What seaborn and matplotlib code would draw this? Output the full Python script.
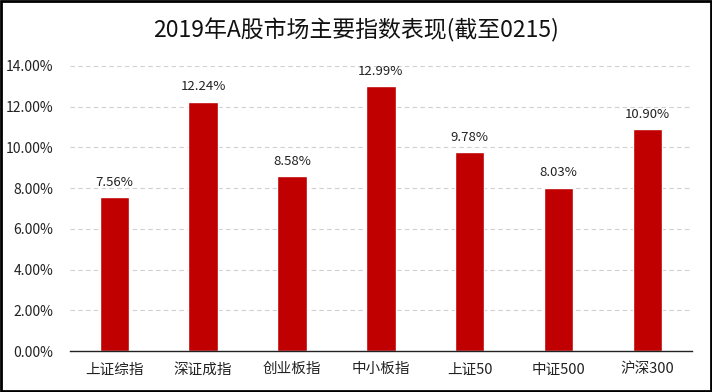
import matplotlib
matplotlib.use("Agg")
import matplotlib.pyplot as plt
import seaborn as sns
import pandas as pd
from matplotlib.ticker import FuncFormatter
from matplotlib.patches import Rectangle

indices = ["上证综指", "深证成指", "创业板指", "中小板指", "上证50", "中证500", "沪深300"]
returns = [7.56, 12.24, 8.58, 12.99, 9.78, 8.03, 10.90]
title = "2019年A股市场主要指数表现(截至0215)"

df = pd.DataFrame({"index": indices, "ret": returns})

sns.set_theme(style="white")
plt.rcParams['font.family'] = ['Noto Sans CJK SC', 'DejaVu Sans']

fig = plt.figure(figsize=(7.12, 3.92), dpi=100)
ax = fig.add_axes([0.098, 0.104, 0.874, 0.728])

sns.barplot(data=df, x="index", y="ret", color="#C00000", saturation=1,
            width=0.33, ax=ax)

ax.set_ylim(0, 14)
ax.set_yticks(range(0, 15, 2))
ax.yaxis.set_major_formatter(FuncFormatter(lambda v, p: f"{v:.2f}%"))
ax.grid(axis="y", linestyle=(0, (4, 3)), color="#d0d0d0", linewidth=0.8)
ax.set_axisbelow(True)
for s in ["top", "right", "left"]:
    ax.spines[s].set_visible(False)
ax.spines["bottom"].set_color("#222222")
ax.spines["bottom"].set_linewidth(1.0)
ax.set_xlabel("")
ax.set_ylabel("")
ax.tick_params(axis="both", length=0, labelsize=10, colors="#222222")
ax.tick_params(axis="x", pad=8, labelsize=10.5)
ax.tick_params(axis="y", pad=12)

for c in ax.containers:
    ax.bar_label(c, labels=[f"{v:.2f}%" for v in returns], padding=6,
                 fontsize=9.5, color="#222222")

fig.text(0.5, 0.922, title, ha="center", va="center", fontsize=16.5, color="#111111")

fig.patches.append(Rectangle((0.002, 0.003), 0.996, 0.994, transform=fig.transFigure,
                             fill=False, edgecolor="black", linewidth=2))

fig.savefig("out.png", dpi=100)
